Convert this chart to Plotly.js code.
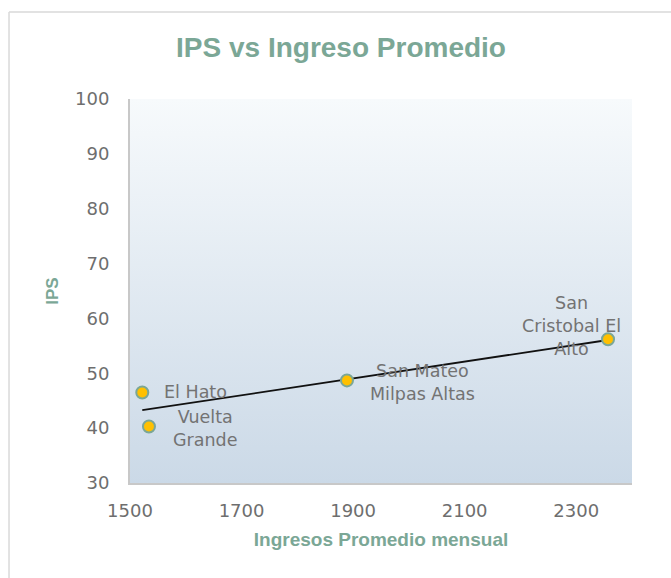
<!DOCTYPE html>
<html>
<head>
<meta charset="utf-8">
<script src="https://cdn.plot.ly/plotly-3.0.1.min.js"></script>
<style>html,body{margin:0;padding:0;background:#fff;}#chart{width:671px;height:578px;}</style>
</head>
<body>
<div id="chart"></div>
<script>
// Data
const places = ["El Hato", "Vuelta<br>Grande", "San Mateo<br>Milpas Altas", "San<br>Cristobal El<br>Alto"];
const ingreso = [1522, 1534, 1889, 2357];
const ips = [46.5, 40.3, 48.7, 56.2];
const xTicks = [1500, 1700, 1900, 2100, 2300];
const yTicks = [30, 40, 50, 60, 70, 80, 90, 100];

// label offsets in px (styling)
const labelShift = [[53, 0], [56, -2], [76, -2], [-37, 13]];

// linear trendline (least squares) computed from data
const n = ingreso.length;
const mx = ingreso.reduce((a, b) => a + b, 0) / n;
const my = ips.reduce((a, b) => a + b, 0) / n;
let sxy = 0, sxx = 0;
for (let i = 0; i < n; i++) { sxy += (ingreso[i] - mx) * (ips[i] - my); sxx += (ingreso[i] - mx) ** 2; }
const slope = sxy / sxx, icpt = my - slope * mx;
const tx = [Math.min(...ingreso), Math.max(...ingreso)];
const ty = tx.map(v => icpt + slope * v);

const tickFont = "'DejaVu Sans', sans-serif";
const titleFont = "'Liberation Sans', Arial, sans-serif";
const grey = '#6e6e6e';
const teal = '#7ba796';

const svg = "<svg xmlns='http://www.w3.org/2000/svg' width='100' height='100' preserveAspectRatio='none'><defs><linearGradient id='g' x1='0' y1='0' x2='0' y2='1'><stop offset='0' stop-color='#f7fafc'/><stop offset='1' stop-color='#cbd9e7'/></linearGradient></defs><rect width='100' height='100' fill='url(#g)'/></svg>";

const traces = [
  { x: tx, y: ty, mode: 'lines', line: { color: '#111', width: 1.8 }, hoverinfo: 'skip', showlegend: false },
  { x: ingreso, y: ips, mode: 'markers', marker: { color: '#ffc000', size: 12, line: { color: '#7ba796', width: 2 } }, showlegend: false }
];

const annotations = places.map((p, i) => ({
  x: ingreso[i], y: ips[i], xref: 'x', yref: 'y', text: p, showarrow: false,
  xshift: labelShift[i][0], yshift: labelShift[i][1],
  font: { family: tickFont, size: 17.5, color: '#737373' }, align: 'center'
}));

const layout = {
  width: 671, height: 578,
  margin: { l: 130, r: 39, t: 99, b: 95 },
  paper_bgcolor: '#ffffff', plot_bgcolor: 'rgba(0,0,0,0)',
  title: { text: 'IPS vs Ingreso Promedio', font: { family: titleFont, size: 28, color: teal, weight: 'bold' }, x: 341 / 671, xref: 'container', y: 0.918, yref: 'container', xanchor: 'center', yanchor: 'middle' },
  xaxis: {
    range: [1500, 2400], tickvals: xTicks, ticktext: xTicks.map(String),
    showgrid: false, zeroline: false, showline: true, linecolor: '#c8c8c8', linewidth: 2,
    ticks: 'outside', ticklen: 10, tickcolor: 'rgba(0,0,0,0)',
    tickfont: { family: tickFont, size: 18, color: grey },
    title: { text: 'Ingresos Promedio mensual', font: { family: titleFont, size: 19, color: teal, weight: 'bold' }, standoff: 13 }
  },
  yaxis: {
    range: [30, 100], tickvals: yTicks, ticktext: yTicks.map(String),
    showgrid: false, zeroline: false, showline: true, linecolor: '#c8c8c8', linewidth: 2,
    ticks: 'outside', ticklen: 15, tickcolor: 'rgba(0,0,0,0)',
    tickfont: { family: tickFont, size: 18, color: grey },
    title: { text: 'IPS', font: { family: titleFont, size: 17, color: teal, weight: 'bold' }, standoff: 12 }
  },
  images: [{ source: 'data:image/svg+xml;utf8,' + encodeURIComponent(svg), xref: 'paper', yref: 'paper', x: 0, y: 1, sizex: 1, sizey: 1, sizing: 'stretch', layer: 'below', xanchor: 'left', yanchor: 'top' }],
  shapes: [
    { type: 'line', xref: 'paper', yref: 'paper', x0: -0.241, x1: 1.1, y0: 1.2266, y1: 1.2266, line: { color: '#d9d9d9', width: 1.5 } },
    { type: 'line', xref: 'paper', yref: 'paper', x0: -0.241, x1: -0.241, y0: 1.2266, y1: -0.3, line: { color: '#d9d9d9', width: 1.5 } }
  ],
  annotations: annotations
};

Plotly.newPlot('chart', traces, layout, { displayModeBar: false, staticPlot: true });
</script>
</body>
</html>
